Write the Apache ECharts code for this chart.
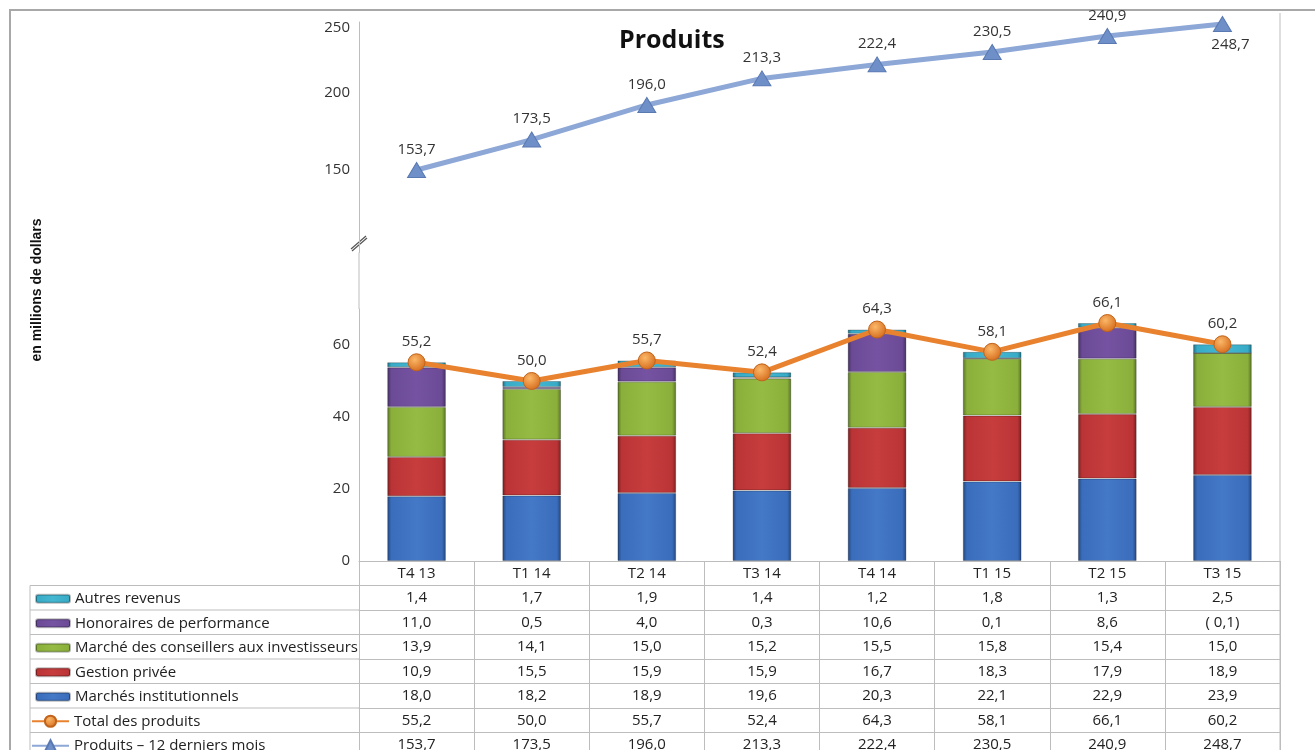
<!DOCTYPE html>
<html>
<head>
<meta charset="utf-8">
<script src="https://cdn.jsdelivr.net/npm/echarts@6/dist/echarts.min.js"></script>
<style>html,body{margin:0;padding:0;background:#fff;}#c{width:1315px;height:750px;}</style>
</head>
<body>
<div id="c"></div>
<script>
// ---- data ----
const categories = ['T4 13','T1 14','T2 14','T3 14','T4 14','T1 15','T2 15','T3 15'];
const autresRevenus = [1.4, 1.7, 1.9, 1.4, 1.2, 1.8, 1.3, 2.5];
const honoraires = [11.0, 0.5, 4.0, 0.3, 10.6, 0.1, 8.6, -0.1];
const conseillers = [13.9, 14.1, 15.0, 15.2, 15.5, 15.8, 15.4, 15.0];
const gestionPrivee = [10.9, 15.5, 15.9, 15.9, 16.7, 18.3, 17.9, 18.9];
const institutionnels = [18.0, 18.2, 18.9, 19.6, 20.3, 22.1, 22.9, 23.9];
const totalProduits = [55.2, 50.0, 55.7, 52.4, 64.3, 58.1, 66.1, 60.2];
const douzeMois = [153.7, 173.5, 196.0, 213.3, 222.4, 230.5, 240.9, 248.7];

const names = {
  autres: 'Autres revenus',
  hon: 'Honoraires de performance',
  cons: 'Marché des conseillers aux investisseurs',
  gest: 'Gestion privée',
  inst: 'Marchés institutionnels',
  total: 'Total des produits',
  douze: 'Produits – 12 derniers mois'
};

// ---- layout ----
const FONT = '"Open Sans", sans-serif';
const L = 359, R = 1280;
const TOP1 = 22, H1 = 230.5;
const TOP2 = 309, H2 = 252;
const AXIS0 = TOP2 + H2; // 561
const ROW = 24.5;
const GRAY = '#bdbdbd';

function fmt(v) {
  const s = Math.abs(v).toFixed(1).replace('.', ',');
  return v < 0 ? '( ' + s + ')' : s;
}

function barColor(dark, base, light) {
  return {
    type: 'linear', x: 0, y: 0, x2: 1, y2: 0,
    colorStops: [
      {offset: 0, color: dark},
      {offset: 0.07, color: base},
      {offset: 0.5, color: light},
      {offset: 0.93, color: base},
      {offset: 1, color: dark}
    ]
  };
}
const colInst = barColor('#23457c', '#3a6dbb', '#4479c8');
const colGest = barColor('#7a1e1f', '#bb3435', '#c73d3e');
const colCons = barColor('#587125', '#8ab03b', '#95bb44');
const colHon = barColor('#43305f', '#6b4a96', '#7553a2');
const colAut = barColor('#1d6f84', '#38abc6', '#44b8d2');

const tableRows = [
  {name: names.autres, data: autresRevenus},
  {name: names.hon, data: honoraires},
  {name: names.cons, data: conseillers},
  {name: names.gest, data: gestionPrivee},
  {name: names.inst, data: institutionnels},
  {name: names.total, data: totalProduits},
  {name: names.douze, data: douzeMois}
];

// x axes: 0 = top grid (hidden), 1 = header row, 2.. = table rows
const xAxes = [{
  type: 'category', gridIndex: 0, data: categories, show: false
}];
const rowAxis = (offset, formatter) => ({
  type: 'category', gridIndex: 1, data: categories, position: 'bottom', offset: offset,
  axisLine: {show: true, lineStyle: {color: GRAY, width: 1}},
  axisTick: {show: true, length: ROW, lineStyle: {color: GRAY, width: 1}},
  axisLabel: {show: true, margin: 5, color: '#222', fontFamily: FONT, fontSize: 15, formatter: formatter, interval: 0},
  splitLine: {show: false}
});
xAxes.push(rowAxis(0, v => v));
tableRows.forEach((r, i) => {
  xAxes.push(rowAxis(ROW * (i + 1), (v, idx) => fmt(r.data[idx])));
});

// legends in the table's first column
const legends = tableRows.map((r, i) => {
  const isLine = i >= 5;
  const cy = AXIS0 + ROW * (i + 1) + ROW / 2;
  return {
    data: [r.name],
    left: isLine ? 31 : 35,
    top: cy - 7,
    orient: 'horizontal',
    padding: 0,
    itemWidth: isLine ? 37 : 34,
    itemHeight: isLine ? 14 : 8,
    selectedMode: false,
    textStyle: {fontFamily: FONT, fontSize: 15, color: '#222', lineHeight: 16}
  };
});

const labelStyle = {show: true, fontFamily: FONT, fontSize: 15, color: '#333'};

const graphics = [
  {type: 'rect', shape: {x: 10, y: 10, width: 1400, height: 900}, style: {fill: 'none', stroke: '#a8a8a8', lineWidth: 2}, silent: true},
  {type: 'line', shape: {x1: R, y1: 13, x2: R, y2: 760}, style: {stroke: GRAY, lineWidth: 1}, silent: true},
  {type: 'line', shape: {x1: L, y1: TOP1 + H1, x2: L, y2: TOP2}, style: {stroke: GRAY, lineWidth: 1}, silent: true},
  {type: 'line', shape: {x1: L - 8, y1: 249, x2: L + 7, y2: 236}, style: {stroke: '#555', lineWidth: 1.2}, silent: true},
  {type: 'line', shape: {x1: L - 7, y1: 251, x2: L + 8, y2: 238}, style: {stroke: '#555', lineWidth: 1.2}, silent: true},
  {type: 'line', shape: {x1: 30, y1: AXIS0 + ROW, x2: 30, y2: 760}, style: {stroke: GRAY, lineWidth: 1}, silent: true},
  {type: 'text', x: 37, y: 290, rotation: Math.PI / 2,
    style: {text: 'en millions de dollars', fontFamily: '"Liberation Sans Narrow", sans-serif', fontWeight: 'bold', fontSize: 14, fill: '#111', align: 'center', verticalAlign: 'middle'}, silent: true}
];
for (let i = 1; i <= 8; i++) {
  graphics.push({type: 'line', shape: {x1: 30, y1: AXIS0 + ROW * i, x2: L, y2: AXIS0 + ROW * i}, style: {stroke: GRAY, lineWidth: 1}, silent: true});
}

const barSeries = (name, data, color) => ({
  name: name, type: 'bar', stack: 'p', stackStrategy: 'all', data: data,
  xAxisIndex: 1, yAxisIndex: 1, barWidth: '51%',
  itemStyle: {color: color, borderColor: 'rgba(0,0,0,0.25)', borderWidth: 1},
  z: 2
});

const option = {
  animation: false,
  backgroundColor: '#fff',
  title: {
    text: 'Produits', left: 614, top: 23,
    textStyle: {fontFamily: FONT, fontWeight: 'bold', fontSize: 25, color: '#111'}
  },
  legend: legends,
  grid: [
    {left: L, width: R - L, top: TOP1, height: H1, containLabel: false, outerBoundsMode: 'none'},
    {left: L, width: R - L, top: TOP2, height: H2, containLabel: false, outerBoundsMode: 'none'}
  ],
  xAxis: xAxes,
  yAxis: [
    {type: 'value', gridIndex: 0, min: 100, max: 250, interval: 50,
      axisLine: {show: true, lineStyle: {color: GRAY}}, axisTick: {show: false}, splitLine: {show: false},
      axisLabel: {fontFamily: FONT, fontSize: 15, color: '#333', margin: 9, showMinLabel: false, lineHeight: 12,
        formatter: v => v >= 250 ? '\n' + v : v + '\n'}},
    {type: 'value', gridIndex: 1, min: 0, max: 70, interval: 20,
      axisLine: {show: true, lineStyle: {color: GRAY}}, axisTick: {show: false}, splitLine: {show: false},
      axisLabel: {fontFamily: FONT, fontSize: 15, color: '#333', margin: 9, showMaxLabel: false}}
  ],
  graphic: graphics,
  series: [
    barSeries(names.inst, institutionnels, colInst),
    barSeries(names.gest, gestionPrivee, colGest),
    barSeries(names.cons, conseillers, colCons),
    barSeries(names.hon, honoraires, colHon),
    barSeries(names.autres, autresRevenus, colAut),
    {
      name: names.total, type: 'line', data: totalProduits, xAxisIndex: 1, yAxisIndex: 1,
      lineStyle: {color: '#e8822e', width: 5},
      symbol: 'circle', symbolSize: 17,
      itemStyle: {color: {type: 'radial', x: 0.4, y: 0.35, r: 0.7, colorStops: [{offset: 0, color: '#fbb868'}, {offset: 1, color: '#d4691a'}]}, borderColor: '#c2631b', borderWidth: 1},
      label: Object.assign({}, labelStyle, {position: 'top', formatter: p => fmt(p.value), distance: 4}),
      z: 5
    },
    {
      name: names.douze, type: 'line', data: douzeMois.map((v, i) => i === douzeMois.length - 1 ? {value: v, label: {position: 'bottom', offset: [8, 0]}} : v),
      xAxisIndex: 0, yAxisIndex: 0,
      lineStyle: {color: '#8da7d7', width: 5},
      symbol: 'triangle', symbolSize: [18, 15],
      itemStyle: {color: '#6f8fc8', borderColor: '#5a79b2', borderWidth: 1},
      label: Object.assign({}, labelStyle, {position: 'top', formatter: p => fmt(p.value), distance: 5}),
      z: 5
    }
  ]
};

const chart = echarts.init(document.getElementById('c'), null, {renderer: 'canvas'});
chart.setOption(option);
</script>
</body>
</html>
